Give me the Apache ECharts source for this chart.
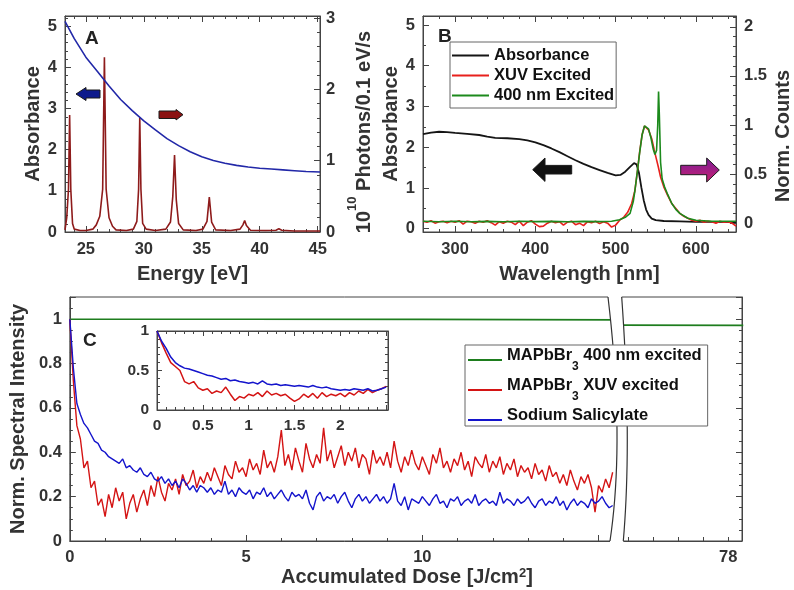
<!DOCTYPE html>
<html>
<head>
<meta charset="utf-8">
<script src="https://cdn.jsdelivr.net/npm/echarts@6/dist/echarts.min.js"></script>
<style>
html, body { margin: 0; padding: 0; background: #fff; }
#chart { width: 794px; height: 590px; }
</style>
</head>
<body>
<div id="chart"></div>
<script>
// ---- panel A: XUV harmonics flux (right axis) + absorbance (left axis)
const harmonicFlux = [
    [23.2, 0.03], [23.35, 0.2], [23.5, 0.6], [23.6, 1.64], [23.7, 0.6], [23.85, 0.12], [24.0, 0.04], [24.5, 0.02],
    [25.0, 0.02], [25.6, 0.04], [25.9, 0.1], [26.2, 0.22], [26.45, 0.6], [26.6, 2.45], [26.75, 0.6], [27.0, 0.2], [27.3, 0.08], [27.6, 0.03],
    [28.5, 0.02], [29.1, 0.04], [29.4, 0.15], [29.55, 0.6], [29.65, 1.61], [29.75, 0.6], [29.9, 0.12], [30.2, 0.04], [31.0, 0.02],
    [31.9, 0.04], [32.3, 0.14], [32.5, 0.5], [32.65, 1.08], [32.8, 0.45], [33.0, 0.12], [33.4, 0.03], [34.5, 0.02],
    [35.1, 0.04], [35.45, 0.15], [35.65, 0.49], [35.85, 0.14], [36.2, 0.03], [37.5, 0.02],
    [38.3, 0.04], [38.55, 0.1], [38.7, 0.16], [38.85, 0.09], [39.2, 0.025], [40.5, 0.02],
    [41.4, 0.025], [41.65, 0.045], [41.9, 0.025], [43.0, 0.015], [45.2, 0.015]
]
const xuvAbsorbance = [
    [23.2, 5.12], [24, 4.7], [25, 4.25], [26, 3.9], [27, 3.55], [28, 3.22], [29, 2.95], [30, 2.7], [31, 2.48],
    [32, 2.27], [33, 2.1], [34, 1.95], [35, 1.83], [36, 1.74], [37, 1.67], [38, 1.62], [39, 1.58], [40, 1.55],
    [41, 1.53], [42, 1.51], [43, 1.49], [44, 1.47], [45.2, 1.46]
]
const energyTicks = [25, 30, 35, 40, 45]
const absATicks = [0, 1, 2, 3, 4, 5]
const fluxTicks = [0, 1, 2, 3]

// ---- panel B: absorbance and PL spectra
const visAbsorbance = [
    [260, 2.32], [270, 2.36], [280, 2.38], [290, 2.37], [300, 2.35], [315, 2.33], [330, 2.3], [340, 2.26], [350, 2.23],
    [365, 2.22], [380, 2.2], [390, 2.17], [400, 2.12], [410, 2.05], [420, 1.97], [430, 1.88], [440, 1.78], [450, 1.68],
    [460, 1.59], [470, 1.51], [480, 1.44], [490, 1.37], [500, 1.31], [506, 1.32], [512, 1.4], [518, 1.52], [523, 1.61],
    [526, 1.58], [529, 1.38], [532, 1.02], [535, 0.7], [538, 0.47], [541, 0.34], [545, 0.25], [550, 0.21], [560, 0.19],
    [580, 0.18], [600, 0.17], [625, 0.17], [650, 0.16]
]
const xuvPL = [
    [260, 0.02], [265, 0.01], [270, 0.025], [275, 0.0], [280, 0.015], [285, 0.02], [290, 0.005], [295, 0.02], [300, 0.01],
    [305, 0.025], [310, -0.01], [315, 0.02], [320, 0.015], [325, 0.0], [330, 0.02], [335, 0.01], [340, 0.025], [345, 0.005],
    [350, -0.02], [355, 0.015], [360, 0.0], [365, 0.02], [370, 0.01], [375, -0.015], [380, 0.02], [385, -0.025], [390, 0.01],
    [395, 0.025], [400, -0.01], [405, -0.035], [410, -0.03], [415, 0.0], [420, 0.02], [425, 0.005], [430, 0.015], [435, -0.02],
    [440, 0.01], [445, 0.02], [450, -0.015], [455, 0.0], [460, -0.025], [465, 0.015], [470, 0.005], [475, 0.02], [480, -0.005],
    [485, 0.015], [490, 0.0], [495, -0.04], [500, -0.02], [505, 0.03], [510, 0.06], [515, 0.11], [520, 0.2], [524, 0.33],
    [527, 0.52], [530, 0.73], [533, 0.9], [536, 0.99], [538, 1.01], [541, 0.95], [545, 0.86], [548, 0.75], [550, 0.68],
    [553, 0.58], [556, 0.47], [560, 0.37], [565, 0.28], [570, 0.2], [575, 0.15], [580, 0.1], [585, 0.07], [590, 0.05],
    [595, 0.03], [600, 0.02], [605, 0.03], [610, 0.01], [615, 0.02], [620, 0.015], [625, 0.0], [630, 0.02], [635, 0.01],
    [640, 0.015], [645, 0.0], [650, -0.03]
]
const blueLaserPL = [
    [260, 0.02], [280, 0.015], [300, 0.02], [320, 0.015], [340, 0.018], [360, 0.015], [380, 0.02], [400, 0.016],
    [420, 0.018], [440, 0.015], [460, 0.018], [480, 0.016], [495, 0.02], [505, 0.035], [512, 0.06], [518, 0.1],
    [522, 0.22], [524, 0.33], [527, 0.52], [530, 0.72], [533, 0.9], [536, 0.99], [538, 1.0], [541, 0.96], [544, 0.87],
    [547, 0.75], [549, 0.7], [551, 0.74], [552.5, 1.0], [553.5, 1.34], [554.5, 1.1], [556, 0.62], [558, 0.45], [561, 0.37],
    [565, 0.29], [570, 0.2], [575, 0.14], [580, 0.1], [590, 0.05], [600, 0.03], [620, 0.02], [650, 0.02]
]
const wavelengthTicks = [300, 400, 500, 600]
const absBTicks = [0, 1, 2, 3, 4, 5]
const countTicks = [0, 0.5, 1, 1.5, 2]

// ---- panel C: degradation vs accumulated dose (step 0.1 J/cm2)
const doseStep = 0.1
const salicylate = [
    1.00, 0.78, 0.62, 0.57, 0.53, 0.51, 0.48, 0.45, 0.44, 0.41,
    0.40, 0.38, 0.37, 0.36, 0.35, 0.37, 0.33, 0.34, 0.32, 0.31,
    0.33, 0.30, 0.29, 0.31, 0.28, 0.27, 0.29, 0.26, 0.28, 0.25,
    0.27, 0.24, 0.28, 0.26, 0.23, 0.25, 0.22, 0.25, 0.24, 0.22,
    0.24, 0.21, 0.23, 0.22, 0.27, 0.21, 0.23, 0.20, 0.24, 0.22,
    0.21, 0.23, 0.19, 0.22, 0.21, 0.24, 0.20, 0.22, 0.19, 0.21,
    0.23, 0.20, 0.18, 0.22, 0.20, 0.21, 0.19, 0.23, 0.17, 0.14,
    0.20, 0.22, 0.18, 0.20, 0.19, 0.21, 0.17, 0.20, 0.22, 0.18,
    0.15, 0.19, 0.21, 0.18, 0.20, 0.17, 0.19, 0.21, 0.18, 0.20,
    0.17, 0.19, 0.26, 0.18, 0.16, 0.20, 0.14, 0.19, 0.18, 0.17,
    0.20, 0.18, 0.16, 0.19, 0.21, 0.17, 0.18, 0.15, 0.19, 0.18,
    0.20, 0.16, 0.18, 0.19, 0.17, 0.21, 0.16, 0.18, 0.19, 0.17,
    0.18, 0.16, 0.22, 0.17, 0.19, 0.18, 0.16, 0.19, 0.17, 0.18,
    0.20, 0.17, 0.15, 0.18, 0.19, 0.16, 0.18, 0.17, 0.20, 0.16,
    0.18, 0.14, 0.17, 0.19, 0.16, 0.18, 0.17, 0.15, 0.19, 0.17,
    0.18, 0.20, 0.17, 0.15, 0.16
]
const xuvExcited = [
    1.00, 0.72, 0.52, 0.46, 0.33, 0.36, 0.24, 0.27, 0.16, 0.19,
    0.11, 0.21, 0.15, 0.24, 0.18, 0.22, 0.10, 0.17, 0.21, 0.13,
    0.19, 0.23, 0.16, 0.25, 0.20, 0.29, 0.22, 0.18, 0.26, 0.23,
    0.28, 0.21, 0.30, 0.25, 0.27, 0.32, 0.24, 0.29, 0.26, 0.31,
    0.27, 0.33, 0.29, 0.25, 0.34, 0.30, 0.28, 0.36, 0.31, 0.33,
    0.29, 0.37, 0.32, 0.35, 0.30, 0.41, 0.33, 0.36, 0.31, 0.38,
    0.50, 0.34, 0.39, 0.32, 0.42, 0.36, 0.31, 0.44, 0.37, 0.33,
    0.39, 0.35, 0.51, 0.36, 0.41, 0.33, 0.38, 0.43, 0.34, 0.40,
    0.36, 0.42, 0.33, 0.39, 0.37, 0.30, 0.41, 0.35, 0.38, 0.34,
    0.40, 0.33, 0.45, 0.36, 0.31, 0.38, 0.34, 0.41, 0.35, 0.32,
    0.38, 0.34, 0.30, 0.39, 0.35, 0.42, 0.33, 0.36, 0.31, 0.37,
    0.34, 0.40, 0.32, 0.36, 0.29, 0.38, 0.35, 0.33, 0.39, 0.31,
    0.36, 0.33, 0.38, 0.30, 0.35, 0.32, 0.37, 0.29, 0.34, 0.31,
    0.33, 0.28, 0.35, 0.30, 0.32, 0.27, 0.34, 0.29, 0.31, 0.26,
    0.30, 0.25, 0.32, 0.27, 0.23, 0.29, 0.26, 0.30, 0.24, 0.13,
    0.25, 0.22, 0.28, 0.24, 0.31
]
const laserExcited = [[0, 1.0], [5, 1.0], [10, 0.999], [15.6, 0.997]]
const laserExcitedLate = [[73.6, 0.973], [78.6, 0.972]]
const doseTicks = [0, 5, 10]
const lateDoseTicks = [74, 75, 76, 77, 78]
const lateDoseLabels = [78]
const intensityTicks = [0, 0.2, 0.4, 0.6, 0.8, 1]

// inset, step 0.05 J/cm2
const insetStep = 0.05
const insetSalicylate = [
    1.00, 0.87, 0.78, 0.67, 0.60, 0.56, 0.53, 0.52, 0.50, 0.48,
    0.46, 0.44, 0.43, 0.41, 0.39, 0.40, 0.37, 0.38, 0.36, 0.35,
    0.34, 0.35, 0.33, 0.37, 0.33, 0.32, 0.33, 0.31, 0.32, 0.31,
    0.30, 0.31, 0.30, 0.29, 0.31, 0.29, 0.28, 0.29, 0.27, 0.26,
    0.25, 0.26, 0.25, 0.27, 0.26, 0.25, 0.27, 0.24, 0.25, 0.27, 0.29
]
const insetXuv = [
    1.00, 0.85, 0.72, 0.60, 0.55, 0.50, 0.36, 0.33, 0.36, 0.28,
    0.25, 0.27, 0.21, 0.24, 0.22, 0.29, 0.20, 0.12, 0.17, 0.15,
    0.20, 0.18, 0.22, 0.17, 0.24, 0.19, 0.21, 0.18, 0.20, 0.15,
    0.11, 0.14, 0.20, 0.16, 0.21, 0.15, 0.22, 0.17, 0.20, 0.18,
    0.21, 0.17, 0.22, 0.19, 0.24, 0.21, 0.26, 0.22, 0.25, 0.27, 0.30
]
const insetDoseTicks = [0, 0.5, 1, 1.5, 2]
const insetIntensityTicks = [0, 0.5, 1]

const FONT = "'Liberation Sans', Arial, sans-serif"
const INK = '#333'
const AXIS = '#444'

function withStep(values, step) {
    return values.map((v, i) => [+(i * step).toFixed(3), v])
}

const tickLabel = { color: INK, fontFamily: FONT, fontWeight: 'bold', fontSize: 16.5, margin: 8 }
const axisName = { color: INK, fontFamily: FONT, fontWeight: 'bold', fontSize: 20 }

function axis(o) {
    const base = {
        type: 'value',
        nameLocation: 'middle',
        splitLine: { show: false },
        axisLine: { show: true, onZero: false, lineStyle: { color: AXIS, width: 1 } },
        axisTick: { show: true, inside: true, length: 6, lineStyle: { color: AXIS } },
        minorTick: { show: false },
        axisLabel: { ...tickLabel },
        nameTextStyle: { ...axisName }
    }
    const out = { ...base, ...o }
    for (const k of ['axisLine', 'axisTick', 'minorTick', 'axisLabel', 'nameTextStyle']) {
        if (o[k]) out[k] = { ...base[k], ...o[k] }
    }
    return out
}
function minor(n) {
    return { show: true, splitNumber: n, length: 3, lineStyle: { color: AXIS } }
}
const noLabel = { show: false }

function line(name, data, color, xi, yi, width) {
    return {
        name, type: 'line', data, xAxisIndex: xi, yAxisIndex: yi,
        symbol: 'none', animation: false, clip: true,
        lineStyle: { color, width: width || 1.6 },
        itemStyle: { color }
    }
}

const supRich = {
    b: { fontFamily: FONT, fontWeight: 'bold', fontSize: 20, color: INK, lineHeight: 28, verticalAlign: 'bottom' },
    sup: { fontFamily: FONT, fontWeight: 'bold', fontSize: 13, color: INK, lineHeight: 13, verticalAlign: 'top' }
}

// break marks of panel C
function quad(p0, c, p2, n) {
    const pts = []
    for (let i = 0; i <= n; i++) {
        const t = i / n
        pts.push([
            (1 - t) * (1 - t) * p0[0] + 2 * t * (1 - t) * c[0] + t * t * p2[0],
            (1 - t) * (1 - t) * p0[1] + 2 * t * (1 - t) * c[1] + t * t * p2[1]
        ])
    }
    return pts
}
const arcL = quad([608, 297], [625, 440], [610, 541], 20)
const arcR = quad([621.7, 297], [632, 440], [623.3, 541], 20)
const gapPoly = [[608, 293]].concat(arcL, [[610, 545], [623.3, 545]], arcR.slice().reverse(), [[621.7, 293]])

function arrow(points, fill) {
    return { type: 'polygon', z: 100, shape: { points }, style: { fill, stroke: '#1a1a1a', lineWidth: 1 } }
}

const chart = echarts.init(document.getElementById('chart'), null, { renderer: 'canvas' })
chart.setOption({
    animation: false,
    backgroundColor: '#fff',
    grid: [
        { left: 65, top: 16, width: 255, height: 216, show: true, borderColor: AXIS, borderWidth: 1 },
        { left: 423, top: 16, width: 315, height: 216, show: true, borderColor: AXIS, borderWidth: 1 },
        { left: 66, top: 297, width: 553, height: 244, show: true, borderColor: AXIS, borderWidth: 1 },
        { left: 619, top: 297, width: 123, height: 244, show: true, borderColor: AXIS, borderWidth: 1 },
        { left: 157, top: 331, width: 231, height: 79, show: true, backgroundColor: '#fff', borderColor: AXIS, borderWidth: 1 }
    ],
    xAxis: [
        axis({ gridIndex: 0, min: 23.2, max: 45.2, minorTick: minor(5), axisLabel: { customValues: energyTicks, margin: 9 },
            name: 'Energy [eV]', nameGap: 32 }),
        axis({ gridIndex: 0, position: 'top', min: 23.2, max: 45.2, minorTick: minor(5), axisLabel: noLabel }),
        axis({ gridIndex: 1, min: 260, max: 650, minorTick: minor(5), axisLabel: { customValues: wavelengthTicks, margin: 9 },
            name: 'Wavelength [nm]', nameGap: 32 }),
        axis({ gridIndex: 1, position: 'top', min: 260, max: 650, minorTick: minor(5), axisLabel: noLabel }),
        axis({ gridIndex: 2, min: 0, max: 15.58, interval: 5, minorTick: minor(5), axisLabel: { customValues: doseTicks, margin: 8 },
            name: 'Accumulated Dose [J/cm{sup|2}]', nameGap: 26,
            nameTextStyle: { padding: [0, 0, 0, 125], rich: supRich } }),
        axis({ gridIndex: 3, min: 73.63, max: 78.55, axisTick: { customValues: lateDoseTicks, length: 4 },
            axisLabel: { customValues: lateDoseLabels, margin: 8 } }),
        axis({ gridIndex: 4, min: 0, max: 2.52, interval: 0.5, minorTick: minor(5),
            axisLabel: { customValues: insetDoseTicks, fontSize: 15.5, margin: 8 }, axisTick: { length: 5 } }),
        axis({ gridIndex: 4, position: 'top', min: 0, max: 2.52, interval: 0.5, minorTick: minor(5), axisLabel: noLabel, axisTick: { length: 5 } })
    ],
    yAxis: [
        axis({ gridIndex: 0, min: 0, max: 5.25, interval: 1, minorTick: minor(5), axisLabel: { customValues: absATicks },
            name: 'Absorbance', nameGap: 21 }),
        axis({ gridIndex: 0, position: 'right', min: 0, max: 3.03, interval: 1, minorTick: minor(5),
            axisLabel: { customValues: fluxTicks, margin: 6 },
            name: '{b|10}{sup|10}{b| Photons/0.1 eV/s}', nameGap: 26, nameRotate: 90,
            nameTextStyle: { padding: [0, 16, 0, 0], rich: supRich } }),
        axis({ gridIndex: 1, min: -0.08, max: 5.22, minorTick: minor(2), axisLabel: { customValues: absBTicks },
            name: 'Absorbance', nameGap: 10 }),
        axis({ gridIndex: 1, position: 'right', min: -0.09, max: 2.11, minorTick: minor(5),
            axisLabel: { customValues: countTicks, margin: 8 },
            name: 'Norm. Counts', nameGap: 37, nameRotate: 90, nameTextStyle: { padding: [0, 24, 0, 0] } }),
        axis({ gridIndex: 2, min: 0, max: 1.1, interval: 0.2, minorTick: minor(4), axisLabel: { customValues: intensityTicks },
            name: 'Norm. Spectral Intensity', nameGap: 38 }),
        axis({ gridIndex: 3, position: 'right', min: 0, max: 1.1, interval: 0.2, minorTick: minor(4), axisLabel: noLabel }),
        axis({ gridIndex: 4, min: 0, max: 1.0, interval: 0.5, minorTick: minor(5),
            axisLabel: { customValues: insetIntensityTicks, fontSize: 15.5 }, axisTick: { length: 5 } }),
        axis({ gridIndex: 4, position: 'right', min: 0, max: 1.0, interval: 0.5, minorTick: minor(5), axisLabel: noLabel, axisTick: { length: 5 } })
    ],
    legend: [
        {
            data: ['Absorbance', 'XUV Excited', '400 nm Excited'],
            orient: 'vertical', left: 450, top: 42, padding: [5, 2, 4, 2], itemGap: 3,
            itemWidth: 37, itemHeight: 2, icon: 'rect', selectedMode: false,
            borderColor: '#666', borderWidth: 1, backgroundColor: '#fff',
            textStyle: { color: '#111', fontFamily: FONT, fontWeight: 'bold', fontSize: 16.5 }
        },
        {
            data: ['MAPbBr3 400 nm excited', 'MAPbBr3 XUV excited', 'Sodium Salicylate'],
            orient: 'vertical', left: 465, top: 345, padding: [2, 6, 2, 3], itemGap: 4, z: 120,
            itemWidth: 34, itemHeight: 2, icon: 'rect', selectedMode: false,
            borderColor: '#666', borderWidth: 1, backgroundColor: '#fff',
            formatter: name => name.startsWith('MAPbBr3')
                ? '{a|MAPbBr}{s|3}{a|' + name.slice(7) + '}'
                : '{a|' + name + '}',
            textStyle: {
                color: '#111', fontFamily: FONT, fontWeight: 'bold', fontSize: 16.5,
                rich: {
                    a: { color: '#111', fontFamily: FONT, fontWeight: 'bold', fontSize: 16.5, lineHeight: 26, verticalAlign: 'top' },
                    s: { color: '#111', fontFamily: FONT, fontWeight: 'bold', fontSize: 12, lineHeight: 12, verticalAlign: 'bottom' }
                }
            }
        }
    ],
    series: [
        line('XUV flux', harmonicFlux, '#8e1b1b', 0, 1),
        line('Absorbance (XUV)', xuvAbsorbance, '#2228a8', 0, 0),
        line('Absorbance', visAbsorbance, '#151515', 2, 2, 1.8),
        line('XUV Excited', xuvPL, '#e8201c', 2, 3),
        line('400 nm Excited', blueLaserPL, '#1c8a1c', 2, 3),
        line('MAPbBr3 400 nm excited', laserExcited, '#1e7d1e', 4, 4),
        line('MAPbBr3 XUV excited', withStep(xuvExcited, doseStep), '#d41414', 4, 4, 1.4),
        line('Sodium Salicylate', withStep(salicylate, doseStep), '#1414cc', 4, 4, 1.4),
        line('MAPbBr3 400 nm excited', laserExcitedLate, '#1e7d1e', 5, 5),
        line('inset XUV', withStep(insetXuv, insetStep), '#d41414', 6, 6, 1.5),
        line('inset salicylate', withStep(insetSalicylate, insetStep), '#1414cc', 6, 6, 1.5)
    ],
    graphic: [
        { type: 'text', z: 100, x: 85, y: 29, style: { text: 'A', fontFamily: FONT, fontWeight: 'bold', fontSize: 19, fill: '#222' } },
        { type: 'text', z: 100, x: 438, y: 27, style: { text: 'B', fontFamily: FONT, fontWeight: 'bold', fontSize: 19, fill: '#222' } },
        { type: 'text', z: 100, x: 83, y: 331, style: { text: 'C', fontFamily: FONT, fontWeight: 'bold', fontSize: 19, fill: '#222' } },
        arrow([[76, 94], [86, 87.5], [86, 90], [100, 90], [100, 98], [86, 98], [86, 100.5]], '#0d1a8c'),
        arrow([[159, 111], [176, 111], [176, 109.5], [183, 114.7], [176, 120], [176, 118.5], [159, 118.5]], '#8b1212'),
        arrow([[532.7, 169.7], [545, 158], [545, 165.4], [571.7, 165.4], [571.7, 174], [545, 174], [545, 181.4]], '#111'),
        arrow([[680.7, 165.3], [706.7, 165.3], [706.7, 158], [719.3, 170], [706.7, 182], [706.7, 174.7], [680.7, 174.7]],
            new echarts.graphic.LinearGradient(0, 0, 0, 1, [
                { offset: 0, color: '#7a1e9a' },
                { offset: 1, color: '#c81f6e' }
            ])),
        { type: 'polygon', z: 100, shape: { points: gapPoly }, style: { fill: '#fff' } },
        { type: 'polyline', z: 101, shape: { points: arcL }, style: { stroke: '#333', lineWidth: 1.2, fill: null } },
        { type: 'polyline', z: 101, shape: { points: arcR }, style: { stroke: '#333', lineWidth: 1.2, fill: null } }
    ]
})
</script>
</body>
</html>
